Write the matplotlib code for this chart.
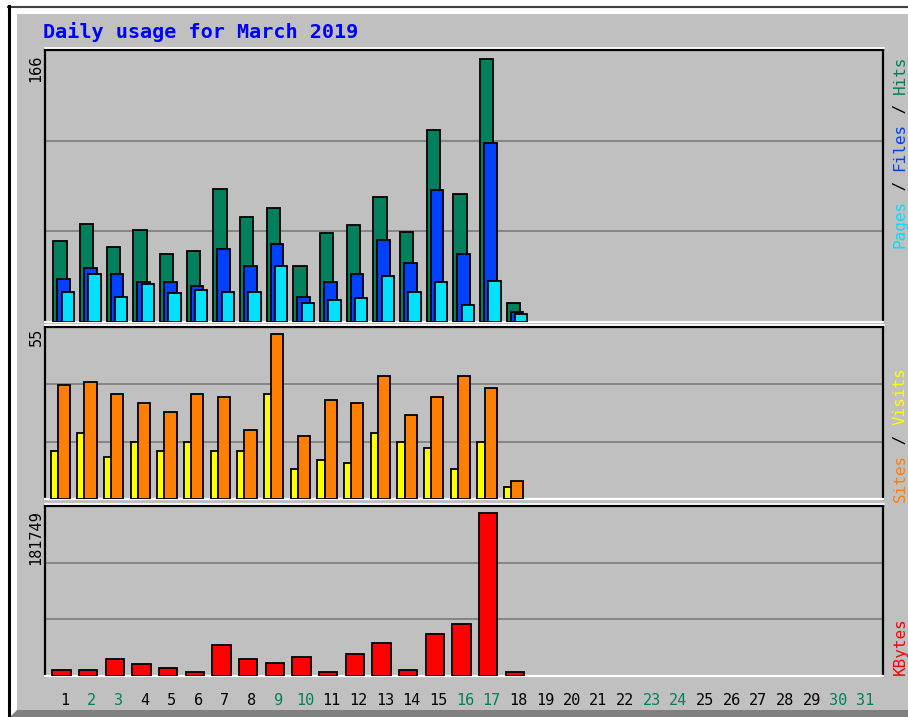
import matplotlib
matplotlib.use("Agg")
import matplotlib.pyplot as plt
from matplotlib.patches import Rectangle, Polygon
from matplotlib.lines import Line2D
import numpy as np

# ---------------- data ----------------
days = list(range(1, 32))
day_labels = [str(d) for d in days]
weekend_days = [2, 3, 9, 10, 16, 17, 23, 24, 30, 31]
data_days = list(range(1, 19))

hits = [51, 62, 47, 58, 43, 45, 84, 66, 72, 35, 56, 61, 79, 57, 121, 81, 166, 12]
files = [27, 34, 30, 25, 25, 23, 46, 35, 49, 16, 25, 30, 52, 37, 83, 43, 113, 6]
pages = [19, 30, 16, 24, 18, 20, 19, 19, 35, 12, 14, 15, 29, 19, 25, 11, 26, 5]
visits = [16, 22, 14, 19, 16, 19, 16, 16, 35, 10, 13, 12, 22, 19, 17, 10, 19, 4]
sites = [38, 39, 35, 32, 29, 35, 34, 23, 55, 21, 33, 32, 41, 28, 34, 41, 37, 6]
kbytes = [6690, 6690, 18620, 13050, 8920, 4900, 34570, 18620, 14940, 20850,
          4900, 24530, 36460, 6690, 46500, 58430, 181749, 4900]

title = "Daily usage for March 2019"

# ---------------- style ----------------
W, H = 908, 717
BG = "#C0C0C0"
C_HITS, C_FILES, C_PAGES = "#00805C", "#0040FF", "#00E0FF"
C_VISITS, C_SITES, C_KB = "#FFFF00", "#FF8000", "#FF0000"
C_WEEKEND = "#00805C"
MONO = "DejaVu Sans Mono"

fig = plt.figure(figsize=(W / 100, H / 100), dpi=100)
fig.patch.set_facecolor("white")


def fx(x):
    return x / W


def fy(y):
    return 1 - y / H


# outer frame
fig.add_artist(Rectangle((fx(17), fy(710)), fx(908) - fx(17), fy(14) - fy(710),
                         transform=fig.transFigure, facecolor=BG, edgecolor="none", zorder=0))
fig.add_artist(Polygon([(fx(10), fy(717)), (fx(17), fy(710)), (fx(908), fy(710)), (fx(908), fy(717))],
                       closed=True, transform=fig.transFigure, facecolor="#808080",
                       edgecolor="none", zorder=0))
fig.add_artist(Line2D([fx(8), fx(908)], [fy(6.5), fy(6.5)], transform=fig.transFigure,
                      color="#404040", lw=1.5))
fig.add_artist(Line2D([fx(8.5), fx(8.5)], [fy(6), fy(717)], transform=fig.transFigure,
                      color="black", lw=2.2))

# title
fig.text(fx(43), fy(32), title, color="#0000FF", family=MONO, weight="bold",
         fontsize=14.5, ha="left", va="center")

LEFT, RIGHT = 45, 883
panels = [(50, 322), (327, 499), (506, 676)]


def make_ax(top, bottom, ytop):
    ax = fig.add_axes([fx(LEFT), fy(bottom), fx(RIGHT) - fx(LEFT), fy(top) - fy(bottom)])
    ax.set_facecolor(BG)
    ax.set_xlim(0.25, 31.67)
    ax.set_ylim(0, ytop)
    for k in (1, 2):
        ax.axhline(ytop * k / 3, color="#808080", lw=1.3, zorder=1)
    ax.set_yticks([])
    ax.set_xticks([])
    for s in ("top", "left", "right"):
        ax.spines[s].set_color("black")
        ax.spines[s].set_linewidth(1.6)
    ax.spines["bottom"].set_color("white")
    ax.spines["bottom"].set_linewidth(1.6)
    fig.add_artist(Line2D([fx(LEFT), fx(RIGHT + 1)], [fy(top - 2.5), fy(top - 2.5)],
                          transform=fig.transFigure, color="white", lw=1.2))
    return ax


ax1 = make_ax(*panels[0], max(hits) * 1.033)
ax2 = make_ax(*panels[1], max(sites) * 1.045)
ax3 = make_ax(*panels[2], max(kbytes) * 1.043)

x = np.array(data_days, dtype=float)
ek = dict(edgecolor="black", linewidth=1.3, align="edge", zorder=3)
ax1.bar(x - 0.44, hits, width=0.50, color=C_HITS, **ek)
ax1.bar(x - 0.29, files, width=0.475, color=C_FILES, **ek)
ax1.bar(x - 0.125, pages, width=0.46, color=C_PAGES, **ek)

ax2.bar(x - 0.535, visits, width=0.285, color=C_VISITS, **ek)
ax2.bar(x - 0.27, sites, width=0.46, color=C_SITES, **ek)

ax3.bar(x - 0.475, kbytes, width=0.69, color=C_KB, **ek)

# x tick labels
ax3.set_xticks(days)
ax3.set_xticklabels(day_labels, family=MONO, fontsize=11)
ax3.tick_params(axis="x", length=0, pad=12)
for lbl, d in zip(ax3.get_xticklabels(), days):
    lbl.set_color(C_WEEKEND if d in weekend_days else "black")

# y max labels
for val, top in ((max(hits), 55), (max(sites), 328), (max(kbytes), 510)):
    fig.text(fx(36), fy(top), str(val), rotation=90, family=MONO, fontsize=11,
             ha="center", va="top", color="black")

# right legends (rotated, multicolour)
FS = 11.5
cw = 0.6021 * FS * 100 / 72  # monospace advance in px


def legend(parts, bottom):
    pos = bottom
    for txt, col in parts:
        fig.text(fx(900), fy(pos), txt, rotation=90, family=MONO, fontsize=FS,
                 ha="center", va="bottom", color=col)
        pos -= len(txt) * cw


legend([("Pages", C_PAGES), (" / ", "black"), ("Files", C_FILES), (" / ", "black"),
        ("Hits", C_HITS)], 248)
legend([("Sites", C_SITES), (" / ", "black"), ("Visits", C_VISITS)], 502)
legend([("KBytes", C_KB)], 675)

fig.savefig("out.png", dpi=100, facecolor=fig.get_facecolor())
